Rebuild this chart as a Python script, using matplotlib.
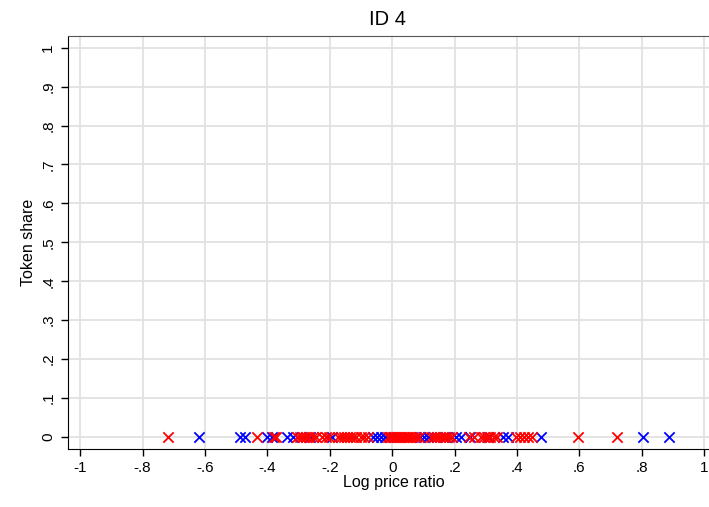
import matplotlib
matplotlib.use("Agg")
import matplotlib.pyplot as plt
import numpy as np

plt.rcParams['font.family'] = ['Liberation Sans', 'DejaVu Sans']

# Log price ratios per group (token share is zero for all of them)
red_ratio = [-0.718, -0.433, -0.378, -0.371,
             -0.304, -0.295, -0.286, -0.276, -0.266, -0.253, -0.244,
             -0.224, -0.212, -0.202,
             -0.173, -0.163, -0.154, -0.144, -0.135, -0.125, -0.115,
             -0.099, -0.090, -0.077,
             -0.013, -0.006, 0.000, 0.006, 0.013, 0.019, 0.026, 0.032,
             0.038, 0.045, 0.051, 0.058, 0.067, 0.077, 0.087,
             0.125, 0.135, 0.144, 0.154, 0.163, 0.173, 0.183, 0.192,
             0.247, 0.263, 0.285, 0.295, 0.304, 0.314, 0.327, 0.337,
             0.397, 0.410, 0.423, 0.436, 0.449, 0.596, 0.721]
blue_ratio = [-0.619, -0.487, -0.471, -0.401, -0.385,
              -0.337, -0.317, -0.263, -0.192,
              -0.061, -0.048, -0.035, -0.022,
              0.090, 0.103, 0.115, 0.170,
              0.205, 0.221, 0.250, 0.308, 0.356, 0.372, 0.478,
              0.804, 0.888]
red_share = [0] * len(red_ratio)
blue_share = [0] * len(blue_ratio)

x_ticks = [-1, -0.8, -0.6, -0.4, -0.2, 0, 0.2, 0.4, 0.6, 0.8, 1]
x_labels = ['-1', '-.8', '-.6', '-.4', '-.2', '0', '.2', '.4', '.6', '.8', '1']
y_ticks = [0, 0.1, 0.2, 0.3, 0.4, 0.5, 0.6, 0.7, 0.8, 0.9, 1]
y_labels = ['0', '.1', '.2', '.3', '.4', '.5', '.6', '.7', '.8', '.9', '1']

fig = plt.figure(figsize=(7.09, 5.07), dpi=100)
ax = fig.add_axes([0.0955, 0.1144, 0.92, 0.8146])

ax.scatter(blue_ratio, blue_share, marker='x', color='#0000ff', s=55, linewidths=1.3, zorder=3)
ax.scatter(red_ratio, red_share, marker='x', color='#ff0000', s=55, linewidths=1.3, zorder=3)

ax.set_xlim(-1.04, 1.051)
ax.set_ylim(-0.031, 1.03)
ax.set_xticks(x_ticks)
ax.set_xticklabels(x_labels, fontsize=11)
ax.set_yticks(y_ticks)
ax.set_yticklabels(y_labels, fontsize=11, rotation=90, va='center')
ax.tick_params(direction='out', length=5, width=1, color='black', pad=4)

ax.grid(True, color='#e2e2e2', linewidth=1.3)
ax.set_axisbelow(True)

ax.spines['right'].set_visible(False)
ax.spines['top'].set_color('#555555')
ax.spines['left'].set_color('black')
ax.spines['bottom'].set_color('black')

ax.set_xlabel('Log price ratio', fontsize=11.5, labelpad=0)
ax.set_ylabel('Token share', fontsize=11.5, labelpad=4)
fig.text(0.547, 0.962, 'ID 4', ha='center', va='center', fontsize=14.5)

fig.savefig('out.png', dpi=100)
